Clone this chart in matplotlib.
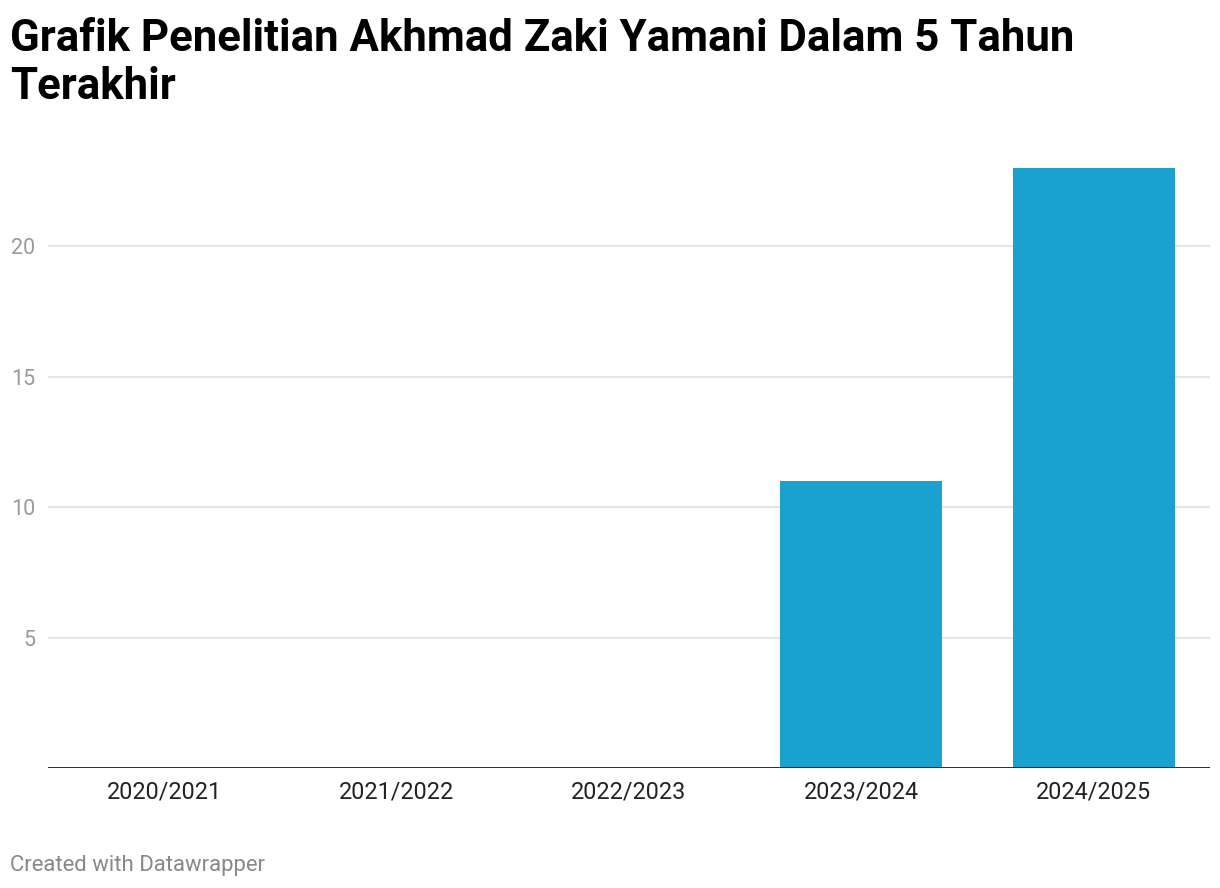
import matplotlib.pyplot as plt

plt.rcParams['font.family'] = ['Roboto', 'DejaVu Sans']

# Data
years = ["2020/2021", "2021/2022", "2022/2023", "2023/2024", "2024/2025"]
counts = [0, 0, 0, 11, 23]
yticks = [5, 10, 15, 20]

W, H = 1220, 888
fig = plt.figure(figsize=(W / 100, H / 100), dpi=100)
# axes in pixel coordinates: left 48, right 1210, bottom 768, top 168
ax = fig.add_axes([48 / W, 1 - 768 / H, (1210 - 48) / W, (768 - 168) / H])

x = range(len(years))
ax.bar(x, counts, width=0.697, color="#1aa1cd", zorder=2)

for v in yticks:
    ax.axhline(v, color="#e5e5e5", lw=1.5, zorder=1)
ax.axhline(0, color="#1a1a1a", lw=2, zorder=3)

ax.set_xlim(-0.5, len(years) - 0.5)
ax.set_ylim(0, 23)
ax.set_xticks(list(x))
ax.set_xticklabels(years, fontsize=16.8, color="#222222")
ax.tick_params(axis="x", length=0, pad=9)
ax.set_yticks(yticks)
ax.set_yticklabels([str(v) for v in yticks], fontsize=15.5, color="#9a9a9a")
ax.tick_params(axis="y", length=0, pad=9)
for s in ax.spines.values():
    s.set_visible(False)

title_lines = ["Grafik Penelitian Akhmad Zaki Yamani Dalam 5 Tahun", "Terakhir"]
for i, line in enumerate(title_lines):
    fig.text(10 / W, 1 - (51 + 48 * i) / H, line, fontsize=31.5, fontweight="bold",
             ha="left", va="baseline", color="#000000")
fig.text(10 / W, 1 - 871 / H, "Created with Datawrapper", fontsize=15.9,
         color="#888888", ha="left", va="baseline")

fig.savefig("out.png", dpi=100)
